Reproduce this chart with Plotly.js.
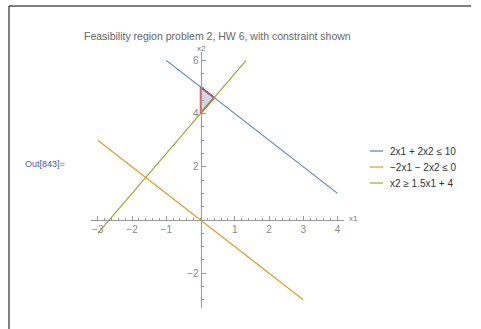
<!DOCTYPE html>
<html>
<head>
<meta charset="utf-8">
<script src="https://cdn.plot.ly/plotly-3.0.1.min.js"></script>
<style>html,body{margin:0;padding:0;background:#fff;}#chart{width:481px;height:329px;}</style>
</head>
<body>
<div id="chart"></div>
<script>
// Data
var blueX = [-1, 4];
var blueY = [6, 1];
var orangeX = [-3, 3];
var orangeY = [3, -3];
var greenX = [-3, 1.3333];
var greenY = [-0.5, 6];
var regionX = [0, 0.4, 0, 0];
var regionY = [4, 4.6, 5, 4];
var edgeX = [0, 0.4, 0];
var edgeY = [5, 4.6, 4];
var seriesNames = ["2x1 + 2x2 \u2264 10", "\u22122x1 \u2212 2x2 \u2264 0", "x2 \u2265 1.5x1 + 4"];
var seriesColors = ["#5E81B5", "#E19C24", "#8FB032"];
var xTickVals = [-3, -2, -1, 1, 2, 3, 4];
var yTickVals = [-2, 2, 4, 6];

var W = 481, H = 329;
function px(x){ return x / W; }
function py(y){ return 1 - y / H; }

var xRange = [-3.2, 4.2];
var yRange = [-3.3, 6.3];
var xScale = 34.25, x0pix = 200.5;
var yScale = 26.6, y0pix = 220;
var xDom = [px(x0pix + xRange[0]*xScale), px(x0pix + xRange[1]*xScale)];
var yDom = [py(y0pix - yRange[0]*yScale), py(y0pix - yRange[1]*yScale)];
var xAxisPos = py(y0pix);
var yAxisPos = px(x0pix);

var traces = [
  {x: regionX, y: regionY, mode: 'lines', fill: 'toself', fillcolor: 'rgba(200,208,224,0.85)',
   line: {color: 'rgba(190,60,60,0.7)', width: 1.6}, showlegend: false, hoverinfo: 'skip'},
  {x: edgeX, y: edgeY, mode: 'lines', line: {color: '#E8141B', width: 1.6}, showlegend: false, hoverinfo: 'skip'},
  {x: blueX, y: blueY, mode: 'lines', name: seriesNames[0], line: {color: seriesColors[0], width: 1.2}, showlegend: false},
  {x: orangeX, y: orangeY, mode: 'lines', name: seriesNames[1], line: {color: seriesColors[1], width: 1.2}, showlegend: false},
  {x: greenX, y: greenY, mode: 'lines', name: seriesNames[2], line: {color: seriesColors[2], width: 1.2}, showlegend: false}
];

function axisCommon() {
  return {
    showgrid: false, zeroline: false, showline: true, linecolor: '#999', linewidth: 1,
    ticks: 'inside', ticklen: 4, tickcolor: '#999', tickwidth: 1,
    tickfont: {family: 'Liberation Sans, Arial, sans-serif', size: 10, color: '#888'},
    anchor: 'free', fixedrange: true, layer: 'above traces'
  };
}

var xaxis = Object.assign(axisCommon(), {
  range: xRange, domain: xDom, position: xAxisPos, tickmode: 'array', tickvals: xTickVals,
  ticktext: xTickVals.map(function(v){ return v < 0 ? '\u2212' + Math.abs(v) : String(v); }),
  minor: {dtick: 0.2, ticklen: 2, tickcolor: '#999', ticks: 'inside'}
});
var yaxis = Object.assign(axisCommon(), {
  range: yRange, domain: yDom, position: yAxisPos, tickmode: 'array', tickvals: yTickVals,
  ticktext: yTickVals.map(function(v){ return v < 0 ? '\u2212' + Math.abs(v) : String(v); }),
  minor: {dtick: 0.5, ticklen: 2, tickcolor: '#999', ticks: 'inside'}
});

var annFont = {family: 'Liberation Sans, Arial, sans-serif', size: 8, color: '#777'};
var annotations = [
  {xref: 'paper', yref: 'paper', x: px(217.5), y: py(36), text: 'Feasibility region problem 2, HW 6, with constraint shown',
   showarrow: false, xanchor: 'center', yanchor: 'middle',
   font: {family: 'Liberation Sans, Arial, sans-serif', size: 10.5, color: '#666'}},
  {xref: 'paper', yref: 'paper', x: px(201), y: py(48), text: 'x2', showarrow: false, xanchor: 'center', yanchor: 'middle', font: annFont},
  {xref: 'paper', yref: 'paper', x: px(347), y: py(218), text: 'x1', showarrow: false, xanchor: 'left', yanchor: 'middle', font: annFont},
  {xref: 'paper', yref: 'paper', x: px(23), y: py(164), text: 'Out[843]=', showarrow: false, xanchor: 'left', yanchor: 'middle',
   font: {family: 'Liberation Sans, Arial, sans-serif', size: 9, color: '#4A5BA8'}}
];
var shapes = [
  {type: 'line', xref: 'paper', yref: 'paper', x0: px(9), x1: px(471), y0: py(6), y1: py(6), line: {color: '#000', width: 1}},
  {type: 'line', xref: 'paper', yref: 'paper', x0: px(9), x1: px(9), y0: py(6), y1: py(329), line: {color: '#000', width: 1}}
];
var legendRows = [151, 167, 183];
for (var i = 0; i < seriesNames.length; i++) {
  shapes.push({type: 'line', xref: 'paper', yref: 'paper', x0: px(370), x1: px(383), y0: py(legendRows[i]), y1: py(legendRows[i]),
    line: {color: seriesColors[i], width: 1.2}});
  annotations.push({xref: 'paper', yref: 'paper', x: px(388), y: py(legendRows[i]), text: seriesNames[i], showarrow: false,
    xanchor: 'left', yanchor: 'middle', font: {family: 'Liberation Sans, Arial, sans-serif', size: 10, color: '#333'}});
}

var layout = {
  width: W, height: H, margin: {l: 0, r: 0, t: 0, b: 0},
  paper_bgcolor: '#fff', plot_bgcolor: 'rgba(0,0,0,0)',
  xaxis: xaxis, yaxis: yaxis, showlegend: false,
  annotations: annotations, shapes: shapes
};
Plotly.newPlot('chart', traces, layout, {displayModeBar: false, staticPlot: true});
</script>
</body>
</html>
